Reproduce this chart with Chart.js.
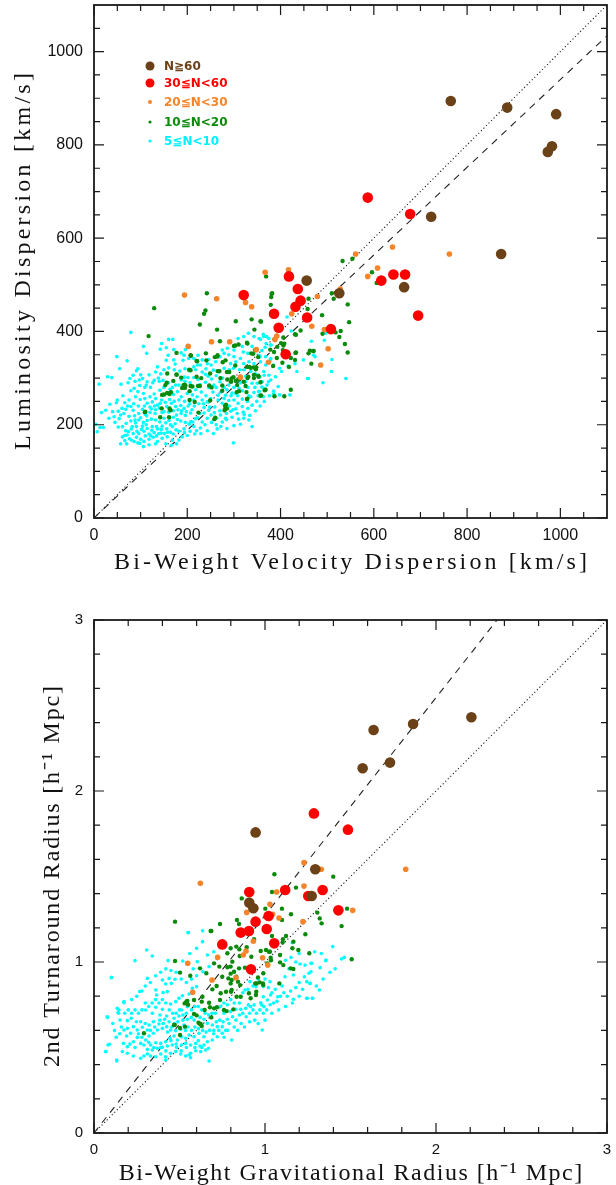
<!DOCTYPE html>
<html><head><meta charset="utf-8">
<script src="https://cdn.jsdelivr.net/npm/chart.js@4.4.0/dist/chart.umd.min.js"></script>
<style>
html,body{margin:0;padding:0;background:#fff;}
#wrap{position:relative;width:616px;height:1185px;overflow:hidden;}
#c1{position:absolute;left:0;top:0;}
#c2{position:absolute;left:0;top:590px;}
</style></head><body>
<div id="wrap"><canvas id="c1" width="616" height="590"></canvas><canvas id="c2" width="616" height="595"></canvas></div>
<script>
// ---------- groups ----------
const groupLabels = ['N≧60', '30≦N<60', '20≦N<30', '10≦N<20', '5≦N<10'];
const groupColors = ['#6b4117', '#ff0000', '#f5842a', '#0a8a0a', '#00ffff'];
const legendTextColors = ['#6b4117', '#ff0000', '#f5842a', '#0a8a0a', '#00f0ff'];
const groupRadii = [5.3, 5.3, 2.8, 2.2, 1.8];

// ---------- top panel: velocity dispersion (km/s) ----------
const topXTicks = [0, 200, 400, 600, 800, 1000];
const topYTicks = [0, 200, 400, 600, 800, 1000];
const topMinor = [50,100,150,250,300,350,450,500,550,650,700,750,850,900,950,1050];
const topRange = [0, 1100];
const topDotted = [[0,0],[1100,1100]];
const topDashed = [[0,0],[1100,1034]];

const topBrown = [[765,894],[886,880],[991,866],[982,797],[973,785],[723,646],[873,566],[456,509],[665,495],[526,482]];
const topRed = [[587,687],[678,652],[616,509],[642,522],[667,522],[695,434],[508,405],[418,518],[437,491],[443,466],[432,453],[386,438],[457,430],[396,408],[411,351],[321,478]];
const topOrange = [[561,566],[640,581],[762,566],[608,536],[587,518],[479,475],[528,491],[194,478],[263,470],[367,527],[417,532],[325,462],[338,453],[202,368],[252,378],[291,378],[348,361],[314,302],[374,334],[392,390],[388,383],[424,438],[467,411],[494,404],[502,363],[486,328]];
const topGreen = [[242,482],[239,445],[236,438],[129,450],[227,415],[264,404],[304,422],[338,426],[381,481],[380,474],[379,457],[380,438],[358,421],[117,390],[270,379],[303,370],[310,372],[329,374],[177,354],[208,348],[240,353],[264,346],[259,345],[221,336],[204,318],[207,317],[157,310],[177,308],[187,301],[192,285],[195,279],[207,283],[220,303],[227,283],[249,310],[269,315],[290,313],[303,327],[271,300],[286,297],[294,292],[304,294],[328,324],[331,303],[342,323],[347,319],[311,272],[329,256],[325,283],[358,263],[368,275],[387,261],[408,261],[422,275],[283,243],[282,234],[280,231],[165,270],[162,266],[150,265],[145,235],[142,216],[110,228],[260,215],[386,356],[393,367],[401,375],[408,374],[405,360],[432,354],[422,343],[431,339],[418,324],[433,393],[443,402],[458,448],[460,470],[384,326],[460,353],
[510,482],[514,470],[489,435],[544,458],[547,420],[490,395],[518,398],[529,401],[526,388],[538,373],[544,355],[471,358],[466,331],[606,504],[369,518],[533,551],[554,556],[596,527],[382,482],[357,422],[344,404],[431,394],[406,387],[406,370],[463,359],[470,358],[433,355],[408,353],[404,333],[392,343],[378,361],[345,360],[341,352],[352,345],[348,323],[343,307],[353,303],[366,274],[357,262],[337,353],
[265,349],[300,369],[328,376],[207,349],[220,337],[282,338],[276,334],[241,338],[265,315],[285,313],[295,299],[333,324],[336,322],[329,300],[309,297],[343,300],[352,305],[357,291],[177,307],[170,294],[194,286],[189,279],[156,290],[153,285],[196,284],[211,282],[223,283],[230,300],[247,284],[252,280],[275,284],[275,273],[307,285],[306,270],[327,270],[328,255],[205,253],[205,272],[157,268],[146,264],[162,235],[164,231],[161,216],[109,227],[224,226],[281,240],[285,235],[258,212],[216,249],[249,252],[314,300],[299,302],[321,292]];
const topCyan = [[79,398],[106,368],[113,353],[145,374],[160,383],[169,383],[142,362],[155,365],[171,361],[159,349],[155,338],[171,339],[174,330],[187,354],[193,349],[196,361],[191,338],[203,342],[214,342],[223,349],[239,353],[243,331],[222,328],[214,324],[232,313],[239,308],[245,304],
[49,346],[71,337],[94,320],[91,316],[55,320],[29,303],[38,301],[11,287],[77,299],[84,306],[100,307],[104,299],[118,307],[114,292],[136,324],[132,313],[143,309],[129,295],[121,280],[109,280],[98,284],[86,278],[79,273],[94,271],[106,267],[120,260],[129,266],[132,256],[141,274],[150,280],[151,264],[145,253],[136,242],[125,249],[114,246],[109,256],[99,254],[89,260],[75,253],[66,247],[50,253],[48,247],[34,244],[25,231],[16,226],[4,201],[13,194],[7,185],[20,194],[43,217],[54,213],[57,221],[64,224],[68,233],[79,239],[84,231],[87,219],[96,224],[104,233],[113,219],[123,234],[131,224],[140,236],[146,226],[156,239],[166,246],[175,239],[186,241],[193,235],[202,240],[207,225],[196,220],[187,224],[177,221],[170,216],[179,211],[161,209],[150,214],[141,206],[132,210],[123,212],[114,209],[106,205],[96,210],[89,204],[79,208],[69,203],[61,196],[68,187],[80,191],[91,196],[104,197],[114,192],[125,196],[136,191],[146,197],[156,191],[168,196],[176,189],[164,184],[151,181],[139,181],[129,183],[118,180],[107,186],[96,181],[84,181],[71,178],[61,174],[66,166],[57,159],[70,159],[80,167],[91,173],[100,169],[94,161],[107,164],[118,169],[127,173],[136,164],[146,171],[157,174],[168,167],[132,159],[118,157],[106,153],[193,191],[204,201],[214,196],[220,187],[232,206],[243,214],[251,221],[246,231],[236,237],[227,224],[218,213],[207,206],[259,238],[266,253],[275,246],[279,256],[289,252],[282,263],[266,263],[250,256],[243,249],[232,253],[221,260],[214,253],[211,264],[200,267],[187,260],[179,271],[170,265],[163,276],[175,285],[187,296],[193,302],[201,301],[214,301],[223,297],[227,286],[239,291],[246,280],[257,285],[270,292],[279,280],[289,285],[300,280],[311,278],[318,273],[304,267],[294,262],[300,253],[309,246],[318,239],[304,234],[293,229],[284,224],[271,221],[263,214],[275,206],[284,211],[296,216],[307,224],[320,227],[330,235],[339,242],[349,250],[329,250],[336,260],[343,269],[354,271],[364,278],[371,285],[361,292],[350,289],[339,289],[330,280],[325,292],[314,290],[325,304],[336,314],[346,309],[356,303],[364,314],[375,306],[379,296],[368,328],[357,335],[343,331],[332,335],[321,331],[314,342],[304,335],[293,331],[300,346],[289,350],[279,353],[270,346],[275,360],[286,364],[300,360],[320,356],[330,353],[343,353],[354,349],[368,346],[379,342],[339,368],[329,376],[318,368],[309,385],[321,389],[331,396],[343,389],[354,385],[364,389],[375,385],[369,374],[380,371],[299,321],[279,321],[268,313],[256,317],[251,328],[261,335],[246,340],[232,339],[339,196],[332,210],[321,214],[314,201],[299,161],[256,181],[264,191],[243,187],[229,181],[200,177],[189,174],[182,167],[177,159],[166,156],[154,159],
[466,379],[494,381],[497,396],[471,349],[510,340],[509,314],[458,299],[491,290],[540,299],[414,431],[423,401],[363,394],[370,389],[357,383],[378,371],[367,366],[360,359],[356,346],[378,339],[385,328],[398,321],[402,314],[416,326],[431,331],[435,314],[449,339],[460,299],[474,346],[420,264],[398,264],[385,266],[363,260],[353,271],[360,281],[374,292],[389,303],[365,306],
[58,287],[62,262],[73,290],[88,293],[97,296],[112,285],[126,290],[138,300],[148,295],[160,290],[168,280],[182,285],[195,293],[206,290],[218,275],[230,270],[240,262],[255,270],[262,280],[272,270],[285,275],[296,268],[308,262],[318,255],[332,262],[345,280],[352,262],[322,318],[312,318],[290,318],[276,300],[262,305],[252,298],[240,320],[228,328],[218,318],[206,315],[195,320],[184,315],[172,318],[160,322],[150,318],[140,293],[130,240],[120,238],[108,240],[95,240],[85,245],[72,240],[60,235],[52,229],[40,228],[32,214],[45,205],[52,195],[75,218],[88,210],[100,215],[110,222],[120,226],[132,232],[142,246],[153,248],[162,254],[172,250],[182,253],[194,250],[205,245],[215,240],[225,245],[235,245],[180,232],[170,230],[160,227],[150,228],[188,230],[198,228],[210,232],[222,215],[212,206],[196,205],[186,208],[174,202],[164,200],[154,204],[144,190],[134,196],[124,188],[112,200],[102,190],[92,186],[82,196],[74,185],[66,177],[76,170],[86,164],[98,160],[110,176],[122,176],[134,176],[144,182],[158,184],[170,180],[182,186],[194,183],[206,186],[216,180],[228,193],[238,200],[252,205],[262,200],[272,196],[285,192],[300,198],[310,212],[322,222],[334,220],[346,230],[356,240],[365,250],[376,262],[385,272],[395,282],[290,240],[298,232],[282,214],[270,230],[258,226],[248,238],[236,225]];

// ---------- bottom panel: radii (h^-1 Mpc) ----------
const botXTicks = [0, 1, 2, 3];
const botYTicks = [0, 1, 2, 3];
const botMinor = [0.2,0.4,0.6,0.8,1.2,1.4,1.6,1.8,2.2,2.4,2.6,2.8];
const botRange = [0, 3];
const botDotted = [[0,0],[3,3]];
const botDashed = [[0,0],[2.357,3]];

const botBrown = [[1.635,2.357],[1.866,2.392],[2.207,2.431],[1.571,2.133],[1.731,2.166],[1.294,1.542],[1.273,1.386],[0.945,1.758],[0.908,1.347],[0.932,1.314]];
const botRed = [[1.286,1.869],[1.485,1.774],[1.429,1.302],[1.337,1.421],[1.253,1.386],[0.908,1.409],[1.118,1.421],[1.021,1.269],[0.945,1.236],[0.858,1.172],[0.906,1.181],[1.010,1.193],[1.054,1.109],[0.918,0.957],[0.750,1.103]];
const botOrange = [[0.622,1.460],[1.228,1.581],[1.329,1.542],[1.823,1.542],[1.228,1.444],[1.513,1.302],[1.068,1.409],[1.029,1.337],[0.893,1.290],[1.045,1.279],[1.082,1.257],[1.222,1.236],[0.932,1.121],[0.889,1.064],[0.873,1.041],[0.723,1.027],[0.986,1.025],[1.016,0.982],[0.548,0.992],[0.830,0.908],[0.690,0.895],[0.577,0.823]];
const botGreen = [[0.686,1.181],[0.474,1.006],[0.503,0.938],[0.563,0.920],[0.620,0.963],[0.657,0.934],[0.702,0.992],[0.733,0.973],[0.780,1.051],[0.799,1.080],[0.832,1.090],[0.852,1.035],[0.893,1.086],[0.936,1.133],[1.023,1.060],[1.033,1.025],[0.809,1.002],[0.780,0.969],[0.750,0.914],[0.786,0.904],[0.819,0.943],[0.832,0.914],[0.799,0.875],[0.805,0.836],[0.772,0.826],[0.741,0.817],[0.717,0.860],[0.692,0.840],[0.737,0.778],[0.719,0.735],[0.702,0.729],[0.678,0.735],[0.673,0.762],[0.634,0.797],[0.630,0.768],[0.585,0.778],[0.546,0.772],[0.530,0.758],[0.585,0.696],[0.600,0.688],[0.647,0.719],[0.624,0.637],[0.630,0.626],[0.686,0.676],[0.472,0.632],[0.503,0.614],[0.532,0.622],[0.292,0.583],[0.760,0.719],[0.776,0.713],[0.906,0.817],[0.916,0.788],[0.949,0.826],[0.943,0.875],[0.969,0.881],[0.988,0.875],[0.858,0.797],[0.815,0.723],[0.842,0.885],[0.959,0.910],[1.014,0.992],[0.799,0.932],[0.541,0.770],[0.550,0.750],
[1.055,1.513],[1.399,1.499],[1.181,1.435],[1.041,1.409],[0.836,1.246],[0.848,1.222],[1.002,1.312],[1.099,1.312],[1.152,1.279],[1.099,1.246],[1.306,1.289],[1.320,1.255],[1.331,1.226],[1.448,1.210],[1.480,1.312],[1.236,1.162],[1.105,1.133],[1.103,1.115],[1.123,1.152],[1.041,1.152],[1.166,1.119],[1.160,1.080],[1.195,1.070],[1.259,1.051],[1.029,1.060],[1.088,1.041],[1.088,0.998],[1.107,0.982],[1.150,0.963],[1.166,0.959],[1.035,1.010],[0.975,1.064],[0.920,1.031],[0.916,1.168],[1.006,1.070],[0.850,1.074],[0.799,0.973],[0.848,0.963],[0.883,0.967],[0.990,0.934],[0.990,0.865],[0.951,0.875],[1.084,0.875],[1.507,1.016],[0.805,0.895],[0.854,0.865],[0.947,0.807],[0.834,0.797],[0.801,0.826],
[0.474,1.236],[0.682,1.181],[0.737,1.222],[0.864,1.372],[0.468,0.632],[0.503,0.573],[0.620,0.637],[0.611,0.645]];
const botCyan = [[0.550,1.172],[0.635,1.119],[0.308,1.070],[0.341,1.035],[0.240,1.008],[0.433,1.008],[0.519,1.006],[0.604,1.002],[0.663,1.041],[0.770,1.099],[0.637,0.943],[0.673,0.973],[0.101,0.908],[0.312,0.904],[0.400,0.895],[0.439,0.904],[0.474,0.899],[0.452,0.875],[0.419,0.871],[0.404,0.821],[0.429,0.827],[0.361,0.836],[0.366,0.807],[0.267,0.827],[0.175,0.768],[0.146,0.719],[0.140,0.704],[0.152,0.661],[0.078,0.676],[0.195,0.657],[0.218,0.671],[0.248,0.651],[0.273,0.651],[0.302,0.719],[0.341,0.700],[0.361,0.735],[0.400,0.723],[0.386,0.690],[0.425,0.684],[0.448,0.754],[0.478,0.768],[0.497,0.788],[0.517,0.803],[0.556,0.813],[0.575,0.846],[0.600,0.856],[0.546,0.739],[0.511,0.719],[0.497,0.684],[0.468,0.671],[0.439,0.651],[0.413,0.665],[0.380,0.637],[0.347,0.651],[0.322,0.632],[0.312,0.602],[0.283,0.618],[0.253,0.602],[0.230,0.622],[0.195,0.612],[0.175,0.602],[0.214,0.583],[0.191,0.567],[0.172,0.524],[0.195,0.505],[0.230,0.534],[0.253,0.559],[0.273,0.524],[0.302,0.544],[0.322,0.567],[0.347,0.583],[0.370,0.602],[0.400,0.612],[0.425,0.622],[0.448,0.602],[0.478,0.598],[0.507,0.606],[0.526,0.632],[0.546,0.665],[0.569,0.676],[0.585,0.661],[0.620,0.676],[0.643,0.665],[0.663,0.641],[0.692,0.632],[0.721,0.622],[0.750,0.622],[0.780,0.665],[0.760,0.700],[0.799,0.710],[0.828,0.723],[0.858,0.723],[0.887,0.729],[0.916,0.739],[0.936,0.749],[0.975,0.762],[0.994,0.739],[1.014,0.778],[1.033,0.807],[0.984,0.602],[0.805,0.544],[0.750,0.583],[0.721,0.563],[0.692,0.544],[0.663,0.534],[0.643,0.563],[0.614,0.583],[0.585,0.563],[0.556,0.573],[0.536,0.554],[0.511,0.563],[0.487,0.544],[0.468,0.567],[0.444,0.554],[0.419,0.534],[0.390,0.524],[0.361,0.528],[0.331,0.515],[0.312,0.489],[0.341,0.485],[0.370,0.495],[0.400,0.501],[0.429,0.509],[0.458,0.515],[0.483,0.501],[0.511,0.515],[0.536,0.524],[0.565,0.515],[0.595,0.524],[0.620,0.509],[0.643,0.515],[0.669,0.495],[0.653,0.485],[0.624,0.476],[0.595,0.481],[0.565,0.466],[0.536,0.450],[0.556,0.456],[0.565,0.440],[0.507,0.462],[0.478,0.476],[0.448,0.466],[0.419,0.446],[0.390,0.462],[0.361,0.446],[0.331,0.450],[0.312,0.462],[0.292,0.515],[0.230,0.450],[0.195,0.466],[0.166,0.476],[0.082,0.515],[0.068,0.476],[0.133,0.427],[0.419,0.427],[0.673,0.421],[0.292,0.450],[0.273,0.437],
[1.160,1.113],[1.152,1.027],[1.205,0.988],[1.269,0.992],[1.322,0.967],[1.357,1.012],[1.396,1.090],[1.448,1.018],[1.464,1.027],[1.257,0.934],[1.263,0.875],[1.166,0.924],[1.117,0.914],[1.029,0.885],[0.990,0.856],[0.947,0.856],[0.912,0.885],[0.883,0.836],[1.318,0.836],[1.247,0.788],[1.279,0.788],[1.166,0.782],[1.074,0.797],[0.990,0.797],[0.902,0.749],[0.981,0.749],[1.355,1.008],[1.273,0.992],[1.269,0.943],[1.234,0.982],[1.230,0.914],[1.244,0.885],[1.263,0.875],[1.244,0.788],[1.277,0.788],
[0.078,0.680],[0.103,0.910],[0.070,0.476],[0.090,0.519],[0.133,0.421],[0.552,1.172],[0.635,1.183],[0.175,0.762],[0.136,0.729],[0.144,0.700],
[0.300,0.640],[0.330,0.600],[0.355,0.620],[0.385,0.660],[0.405,0.640],[0.430,0.590],[0.455,0.620],[0.470,0.640],[0.490,0.650],[0.520,0.660],[0.535,0.600],[0.550,0.620],[0.570,0.600],[0.590,0.620],[0.610,0.610],[0.635,0.600],[0.655,0.590],[0.675,0.600],[0.700,0.600],[0.715,0.650],[0.735,0.660],[0.755,0.650],[0.770,0.600],[0.790,0.640],[0.810,0.680],[0.830,0.660],[0.850,0.690],[0.870,0.700],[0.890,0.680],[0.910,0.700],[0.930,0.720],[0.950,0.700],[0.970,0.720],[0.990,0.700],[1.010,0.720],[1.030,0.750],[1.050,0.760],[1.070,0.770],[1.090,0.800],[1.110,0.820],[1.130,0.800],[1.150,0.830],[1.180,0.850],[1.200,0.880],[1.100,0.860],[1.060,0.840],[1.040,0.820],[1.020,0.850],[1.000,0.900],[0.960,0.900],[0.930,0.860],[0.900,0.840],[0.870,0.820],[0.850,0.760],[0.820,0.760],[0.800,0.780],[0.780,0.750],[0.760,0.760],[0.740,0.740],[0.710,0.700],[0.690,0.700],[0.670,0.690],[0.650,0.700],[0.630,0.720],[0.610,0.740],[0.590,0.740],[0.570,0.720],[0.540,0.700],[0.520,0.690],[0.500,0.720],[0.480,0.700],[0.460,0.700],[0.440,0.720],[0.420,0.760],[0.400,0.780],[0.380,0.760],[0.360,0.780],[0.340,0.760],[0.320,0.740],[0.300,0.760],[0.280,0.720],[0.260,0.700],[0.240,0.720],[0.220,0.700],[0.200,0.720],[0.180,0.700],[0.160,0.620],[0.150,0.580],[0.130,0.560],[0.120,0.600],[0.110,0.640],[0.220,0.780],[0.250,0.800],[0.280,0.830],[0.300,0.860],[0.330,0.880],[0.360,0.920],[0.390,0.940],[0.420,0.960],[0.450,0.950],[0.480,0.940],[0.510,0.900],[0.540,0.880],[0.570,0.900],[0.600,0.920],[0.580,0.960],[0.560,1.050],[0.600,1.080],[0.700,1.060],[0.720,1.020],[0.540,0.500],[0.510,0.480],[0.480,0.520],[0.450,0.540],[0.420,0.480],[0.390,0.500],[0.350,0.500],[0.320,0.530],[0.280,0.560],[0.260,0.580],[0.240,0.500],[0.210,0.520],[0.590,0.500],[0.610,0.540],[0.630,0.500],[0.700,0.580],[0.730,0.600],[0.760,0.560],[0.780,0.600],[0.820,0.620],[0.840,0.600],[0.860,0.640],[0.880,0.620],[0.910,0.650],[0.940,0.660],[0.960,0.640],[1.000,0.660],[1.040,0.700],[1.080,0.720],[1.120,0.740],[1.160,0.760],[1.200,0.800],[1.220,0.840],[1.300,0.860],[1.340,0.900],[1.380,0.940],[1.410,0.960],[1.330,1.050],[1.290,1.060],[1.180,1.000],[1.140,0.960],[1.120,1.010],[1.200,1.050]];

// ---------- titles ----------
const topXTitle = 'Bi-Weight Velocity Dispersion [km/s]';
const topYTitle = 'Luminosity Dispersion [km/s]';
const botXTitle = 'Bi-Weight Gravitational Radius [h⁻¹ Mpc]';
const botYTitle = '2nd Turnaround Radius [h⁻¹ Mpc]';

const toXY = arr => arr.map(p => ({x: p[0], y: p[1]}));

function spacedText(ctx, text, cx, cy, width, rot) {
  ctx.save();
  ctx.translate(cx, cy);
  if (rot) ctx.rotate(rot);
  ctx.letterSpacing = '0px';
  const w0 = ctx.measureText(text).width;
  const ls = Math.max(0, (width - w0) / (text.length));
  ctx.letterSpacing = ls.toFixed(2) + 'px';
  const w1 = ctx.measureText(text).width;
  ctx.textAlign = 'left';
  ctx.textBaseline = 'middle';
  ctx.fillText(text, -w1 / 2 + ls / 2, 0);
  ctx.restore();
}

const framePlugin = {
  id: 'frame',
  afterDatasetsDraw(chart, args, o) {
    const {ctx, chartArea: a, scales: {x, y}} = chart;
    ctx.save();
    ctx.strokeStyle = '#1a1a1a';
    ctx.lineWidth = 1.2;
    ctx.beginPath();
    o.majors.forEach(v => {
      const px = x.getPixelForValue(v), py = y.getPixelForValue(v);
      ctx.moveTo(px, a.bottom); ctx.lineTo(px, a.bottom - 10);
      ctx.moveTo(px, a.top); ctx.lineTo(px, a.top + 10);
      ctx.moveTo(a.left, py); ctx.lineTo(a.left + 10, py);
      ctx.moveTo(a.right, py); ctx.lineTo(a.right - 10, py);
    });
    o.minors.forEach(v => {
      const px = x.getPixelForValue(v), py = y.getPixelForValue(v);
      ctx.moveTo(px, a.bottom); ctx.lineTo(px, a.bottom - 6);
      ctx.moveTo(px, a.top); ctx.lineTo(px, a.top + 6);
      ctx.moveTo(a.left, py); ctx.lineTo(a.left + 6, py);
      ctx.moveTo(a.right, py); ctx.lineTo(a.right - 6, py);
    });
    ctx.stroke();
    ctx.lineWidth = 1.8;
    ctx.strokeRect(a.left, a.top, a.right - a.left, a.bottom - a.top);
    ctx.restore();
  },
  afterDraw(chart, args, o) {
    const {ctx, chartArea: a} = chart;
    ctx.save();
    ctx.fillStyle = '#111';
    ctx.font = '24px "Liberation Serif"';
    spacedText(ctx, o.xTitle, (a.left + a.right) / 2, a.bottom + o.xTitleOff, o.xTitleW, 0);
    spacedText(ctx, o.yTitle, o.yTitleX, (a.top + a.bottom) / 2, o.yTitleW, -Math.PI / 2);
    if (o.legend) {
      const ds = chart.data.datasets;
      ctx.font = 'bold 12px "DejaVu Sans"';
      ctx.textBaseline = 'middle';
      ctx.textAlign = 'left';
      o.legendRows.forEach((ry, i) => {
        const d = ds[i];
        ctx.fillStyle = d.backgroundColor;
        ctx.beginPath();
        ctx.arc(150, ry, Math.max(1.6, d.pointRadius - 0.8), 0, Math.PI * 2);
        ctx.fill();
        ctx.fillStyle = legendTextColors[i];
        ctx.fillText(d.label, 164, ry + 0.5);
      });
    }
    ctx.restore();
  }
};

const zeroPad = s => { s.paddingTop = 0; s.paddingBottom = 0; s.paddingLeft = 0; s.paddingRight = 0; };

function buildChart(canvasId, groups, dotted, dashed, range, xTicks, yTicks, minors, pad, xAxisH, fontSize, titles) {
  const datasets = groups.map((g, i) => ({
    type: 'scatter',
    label: groupLabels[i],
    data: toXY(g),
    backgroundColor: groupColors[i],
    borderWidth: 0,
    pointRadius: groupRadii[i],
    pointHoverRadius: groupRadii[i],
    order: i
  }));
  datasets.push({type: 'line', label: 'dotted', data: toXY(dotted), borderColor: '#222', borderWidth: 1.1,
    borderDash: [1.2, 2.4], pointRadius: 0, fill: false, order: 10});
  datasets.push({type: 'line', label: 'dashed', data: toXY(dashed), borderColor: '#222', borderWidth: 1.1,
    borderDash: [7, 6], pointRadius: 0, fill: false, order: 11});
  const tickFont = {family: '"Liberation Sans", sans-serif', size: fontSize};
  return new Chart(document.getElementById(canvasId), {
    type: 'scatter',
    data: {datasets},
    options: {
      responsive: false, animation: false, devicePixelRatio: 1,
      layout: {autoPadding: false, padding: {left: 0, top: pad.top, right: 9, bottom: 0}},
      plugins: {legend: {display: false}, tooltip: {enabled: false}, frame: titles},
      scales: {
        x: {type: 'linear', min: range[0], max: range[1],
          afterBuildTicks: s => { s.ticks = xTicks.map(v => ({value: v})); },
          afterFit: s => { s.height = xAxisH; zeroPad(s); },
          grid: {display: false, drawTicks: false}, border: {display: false},
          ticks: {color: '#111', font: tickFont, padding: 8, maxRotation: 0, autoSkip: false,
            callback: v => String(v)}},
        y: {type: 'linear', min: range[0], max: range[1],
          afterBuildTicks: s => { s.ticks = yTicks.map(v => ({value: v})); },
          afterFit: s => { s.width = 94; zeroPad(s); },
          grid: {display: false, drawTicks: false}, border: {display: false},
          ticks: {color: '#111', font: tickFont, padding: 11, autoSkip: false,
            callback: v => String(v)}}
      }
    },
    plugins: [framePlugin]
  });
}

buildChart('c1', [topBrown, topRed, topOrange, topGreen, topCyan], topDotted, topDashed, topRange,
  topXTicks, topYTicks, topMinor, {top: 5}, 72, 16,
  {majors: topXTicks, minors: topMinor, xTitle: topXTitle, yTitle: topYTitle,
   xTitleOff: 45, xTitleW: 476, yTitleX: 24, yTitleW: 380, legend: true, legendRows: [66, 83, 102, 122, 141]});

buildChart('c2', [botBrown, botRed, botOrange, botGreen, botCyan], botDotted, botDashed, botRange,
  botXTicks, botYTicks, botMinor, {top: 30}, 52, 15,
  {majors: botXTicks, minors: botMinor, xTitle: botXTitle, yTitle: botYTitle,
   xTitleOff: 41, xTitleW: 465, yTitleX: 53, yTitleW: 383, legend: false, legendRows: []});
</script>
</body></html>
